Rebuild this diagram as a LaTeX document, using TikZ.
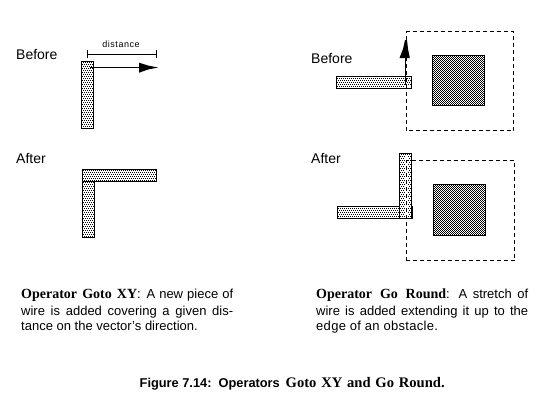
\documentclass[tikz,border=0pt]{standalone}
\usepackage{fontspec}
\setmainfont{Liberation Sans}
\newfontfamily\serifbold[BoldFont={Liberation Serif Bold}]{Liberation Serif}
\tikzset{
  x=1bp,y=-1bp,
  outline/.style={draw=black,line width=1bp},
  zone/.style={draw=black,line width=1bp,dash pattern=on 4bp off 3bp},
  lineonly/.style={draw=black,line width=1bp},
  statelabel/.style={anchor=base west,inner sep=0pt,font=\fontsize{14bp}{16bp}\selectfont},
  para/.style={anchor=base west,inner sep=0pt,font=\fontsize{13bp}{15bp}\selectfont},
  figcap/.style={anchor=base west,inner sep=0pt,font=\fontsize{12.8bp}{15bp}\selectfont\bfseries},
}
\newcommand{\opname}[3]{\makebox[#1][s]{\serifbold\bfseries\fontsize{#2}{15bp}\selectfont #3}}
% pixel dither fills: arguments are the first and last pixel column and row
\newcommand{\wirefill}[4]{%
  \foreach \i in {#1,...,#2}{\foreach \j in {#3,...,#4}{%
    \ifodd\j\relax\else
      \ifodd\numexpr\i+\j/2\relax\else\fill[black] (\i,\j) rectangle ++(1,1);\fi
    \fi}}}
\newcommand{\checkfill}[4]{%
  \foreach \i in {#1,...,#2}{\foreach \j in {#3,...,#4}{%
    \ifodd\numexpr\i+\j\relax\else\fill[black] (\i,\j) rectangle ++(1,1);\fi}}}
\begin{document}
\begin{tikzpicture}
\useasboundingbox (0,0) rectangle (545,419);
% left Before
\node[statelabel] (lb) at (16,59) {Before};
\wirefill{82}{92}{62}{127}
\path[outline] (81.5,61.5) rectangle (93.5,128.5);
\draw[lineonly] (87.5,50) -- (87.5,58) (87.5,54.5) -- (156.5,54.5) (156.5,50) -- (156.5,58);
\node[inner sep=0pt,font=\fontsize{9bp}{10bp}\selectfont\addfontfeatures{LetterSpace=6}] (dist) at (121,44) {distance};
\draw[lineonly] (90,67.5) -- (145,67.5);
\fill[black] (139,62.7) -- (148,65.5) -- (158,67.5) -- (148,69.5) -- (139,72.7) -- cycle;
% left After
\node[statelabel] (la) at (16,163.5) {After};
\wirefill{83}{93}{182}{236}
\path[outline] (82.5,181.5) rectangle (94.5,237.5);
\wirefill{83}{155}{170}{180}
\path[outline] (82.5,169.5) rectangle (156.5,181.5);
% right Before
\node[statelabel] (rb) at (311,63.5) {Before};
\wirefill{337}{410}{77}{87}
\path[outline] (336.5,76.5) rectangle (411.5,88.5);
\fill[white] (405,85) rectangle (411,88);
\draw[zone] (406.5,130.5) -- (406.5,31.5) -- (513.5,31.5) -- (513.5,130.5) -- cycle;
\checkfill{433}{483}{56}{104}
\path[outline] (432.5,55.5) rectangle (484.5,105.5);
\draw[lineonly] (405.7,85) -- (405.7,55);
\fill[black] (399.5,58) -- (403,49) -- (405,40) -- (407,40) -- (408,49) -- (409.8,58) -- cycle;
% right After
\node[statelabel] (ra) at (311,163.5) {After};
\wirefill{338}{398}{207}{217}
\path[outline] (337.5,206.5) rectangle (412.5,218.5);
\fill[white] (400,154) rectangle (411,218);
\wirefill{400}{410}{154}{217}
\path[outline] (399.5,153.5) rectangle (411.5,218.5);
\fill[white] (405,156) rectangle (407.5,217.5);
\draw[black,line width=1bp] (412.5,206) -- (412.5,219);
\draw[zone] (406.5,260.5) -- (406.5,160.5) -- (514.5,160.5) -- (514.5,260.5) -- cycle;
\checkfill{434}{484}{185}{234}
\path[outline] (433.5,184.5) rectangle (485.5,235.5);
% left paragraph
\node[para] (p1a) at (21,298.5) {\makebox[212bp][s]{\opname{116bp}{14bp}{Operator Goto XY}: A new piece of}};
\node[para] (p1b) at (21,315) {\makebox[212bp][s]{wire is added covering a given dis-}};
\node[para] (p1c) at (21,330) {tance on the vector's direction.};
% right paragraph
\node[para] (p2a) at (316,298.5) {\makebox[212bp][s]{\opname{130bp}{14bp}{Operator Go Round}: A stretch of}};
\node[para] (p2b) at (316,315) {\makebox[212bp][s]{wire is added extending it up to the}};
\node[para] (p2c) at (316,330) {\addfontfeatures{LetterSpace=2.3}edge of an obstacle.};
% caption
\node[figcap] (c1) at (139.5,387) {Figure 7.14:\ \ Operators};
\node[figcap] (c2) at (285.5,387) {\opname{159bp}{14.6bp}{Goto XY and Go Round.}};
\end{tikzpicture}
\end{document}
